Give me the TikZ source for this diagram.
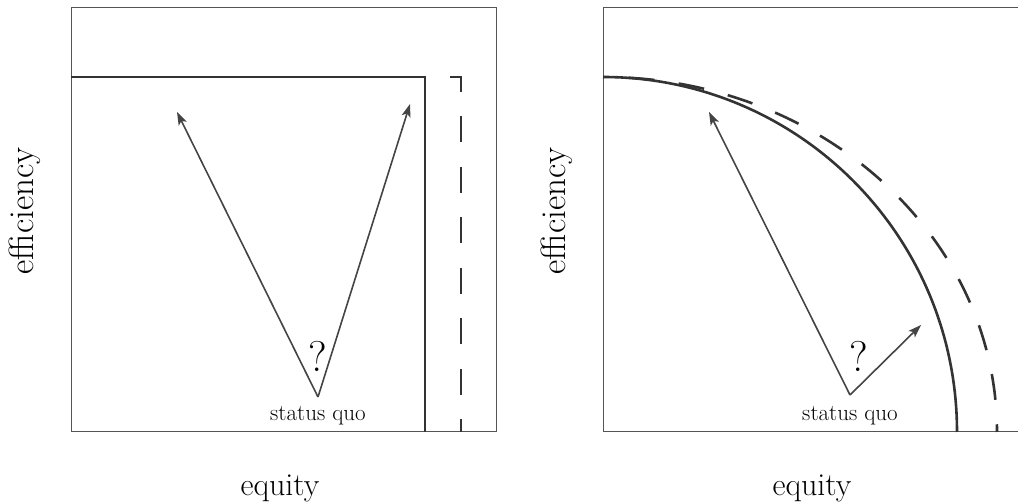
\documentclass[tikz,border=0pt]{standalone}
\usetikzlibrary{arrows.meta}
\definecolor{frame}{HTML}{555555}
\definecolor{front}{HTML}{333333}
\definecolor{arr}{HTML}{444444}
\tikzset{
  panel/.style={draw=frame, line width=1pt},
  frontier/.style={draw=front, line width=2.6pt},
  dfrontier/.style={draw=front, line width=2.6pt, dash pattern=on 26pt off 24.5pt, dash phase=25pt},
  move/.style={draw=arr, line width=1.6pt, -{Stealth[length=13pt,width=9pt,inset=3pt]}},
  qlabel/.style={font=\fontsize{43}{46}\selectfont, inner sep=0pt},
  sqlabel/.style={font=\fontsize{23}{26}\selectfont, inner sep=0pt},
  eqlabel/.style={font=\fontsize{32}{36}\selectfont, inner sep=0pt},
  eflabel/.style={font=\fontsize{35}{38}\selectfont, inner sep=0pt, rotate=90}
}
\begin{document}
\begin{tikzpicture}[x=1pt,y=1pt]
\useasboundingbox (0,0) rectangle (1018,503);
\clip (0,0) rectangle (1018,503);
% left panel
\draw[panel] (71,71) rectangle (496,495);
\draw[frontier] (71,426) -- (425,426) -- (425,71);
\draw[dfrontier] (71,426) -- (461,426) -- (461,71);
\coordinate (sqL) at (318,106);
\coordinate (tL1) at (177,391);
\coordinate (tL2) at (410,399);
\draw[move] (sqL) -- (tL1);
\draw[move] (sqL) -- (tL2);
\node[qlabel] (qL) at (318,147) {?};
\node[sqlabel, anchor=base] (sL) at (318,82) {status quo};
\node[eqlabel] (eqL) at (280,15) {equity};
\node[eflabel] (efL) at (25,292) {efficiency};
% right panel
\draw[panel] (603,71) rectangle (1028,495);
\draw[frontier] (603,426) arc[start angle=90, end angle=0, x radius=354, y radius=355];
\draw[dfrontier] (603,426) arc[start angle=90, end angle=0, x radius=394, y radius=355];
\coordinate (sqR) at (850,108);
\coordinate (tR1) at (709,391);
\coordinate (tR2) at (921,178);
\draw[move] (sqR) -- (tR1);
\draw[move] (sqR) -- (tR2);
\node[qlabel] (qR) at (859,147) {?};
\node[sqlabel, anchor=base] (sR) at (850,82) {status quo};
\node[eqlabel] (eqR) at (812,15) {equity};
\node[eflabel] (efR) at (557,292) {efficiency};
\end{tikzpicture}
\end{document}
